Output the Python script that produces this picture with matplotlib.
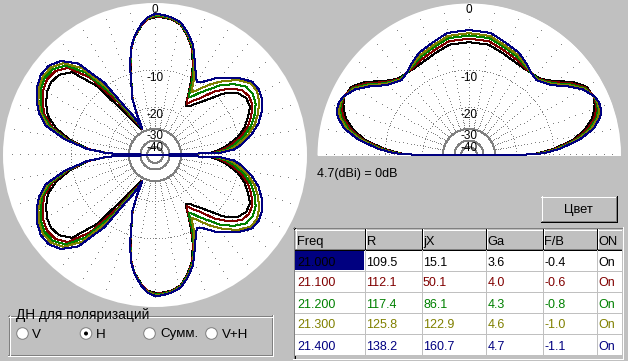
import numpy as np
import matplotlib
matplotlib.use("Agg")
import matplotlib.pyplot as plt
from matplotlib.patches import Rectangle, Circle

plt.rcParams["font.family"] = ["Liberation Sans", "DejaVu Sans"]

W, H = 628, 361
BG = "#c0c0c0"
DARK = "#808080"

# ---------------- data ----------------
FREQ_LABELS = ["21.000", "21.100", "21.200", "21.300", "21.400"]
CURVE_COLORS = ["#000000", "#800000", "#008000", "#808000", "#000080"]
R_VALUES = ["109.5", "112.1", "117.4", "125.8", "138.2"]
JX_VALUES = ["15.1", "50.1", "86.1", "122.9", "160.7"]
GA_VALUES = ["3.6", "4.0", "4.3", "4.6", "4.7"]
FB_VALUES = ["-0.4", "-0.6", "-0.8", "-1.0", "-1.1"]
ON_VALUES = ["On", "On", "On", "On", "On"]
TABLE_HEADERS = ["Freq", "R", "jX", "Ga", "F/B", "ON"]
RING_LABELS = [0, -10, -20, -30, -40]
GAIN_TEXT = "4.7(dBi) = 0dB"
POL_TITLE = "ДН для поляризаций"
POL_OPTIONS = ["V", "H", "Сумм.", "V+H"]
POL_SELECTED = "H"
BUTTON_TEXT = "Цвет"

# Horizontal-plane pattern (azimuth, degrees clockwise from top), dB rel. 0dB
AZ_ANGLE_DEG = [-90, -88, -85, -80, -75, -70, -65, -60, -55, -50,
                -45, -40, -35, -32, -30, -28, -25.5, -24, -22, -19,
                -16, -13, -10, -6, -3, 0, 3, 7, 11, 15,
                19, 23, 27, 30, 32, 35, 38, 43, 48, 53,
                58, 63, 68, 73, 78, 83, 86, 88, 90,
                92, 94, 97, 102, 107, 112, 117, 122, 127, 132,
                137, 142, 145, 148, 150, 153, 157, 161, 165, 169,
                173, 177, 180, 183, 186, 190, 193, 196, 199, 202,
                204, 205.5, 208, 210, 212, 215, 220, 225, 230, 235,
                240, 245, 250, 255, 260, 265, 268, 270]

AZ_DB_21000 = [-99, -20.3, -14.2, -9.69, -6.79, -4.89, -4.02, -3.33, -3.06, -3.33,
               -4.45, -8.97, -18.9, -23.8, -26.0, -27.6, -28.2, -20.9, -15.95, -12.9,
               -9.11, -5.97, -4.16, -2.66, -1.89, -1.67, -1.67, -1.83, -2.27, -3.46,
               -5.04, -7.64, -11.46, -14.7, -16.5, -15.95, -14.6, -12.0, -8.58, -6.59,
               -5.89, -6.04, -7.07, -8.27, -10.03, -12.81, -15.04, -17.29, -99,
               -17.29, -15.04, -12.81, -10.03, -8.27, -7.07, -6.04, -5.89, -6.59, -8.58,
               -12.0, -14.6, -15.95, -16.5, -14.7, -11.46, -7.64, -5.04, -3.46, -2.27,
               -1.83, -1.67, -1.67, -1.89, -2.66, -4.16, -5.97, -9.11, -12.9, -15.95,
               -20.9, -28.2, -27.6, -26.0, -23.8, -18.9, -8.97, -4.45, -3.33, -3.06,
               -3.33, -4.02, -4.89, -6.79, -9.69, -14.2, -20.3, -99]

AZ_DB_21100 = [-99, -20.2, -14.0, -9.24, -6.10, -4.36, -3.45, -2.76, -2.43, -2.61,
               -3.59, -6.95, -14.6, -20.8, -23.3, -25.7, -28.2, -20.85, -15.91, -12.85,
               -9.06, -5.93, -4.12, -2.61, -1.84, -1.57, -1.59, -1.77, -2.21, -3.37,
               -4.91, -7.43, -10.9, -14.45, -15.7, -14.1, -12.8, -9.57, -7.28, -5.78,
               -5.35, -5.6, -6.49, -7.65, -9.36, -11.96, -14.05, -16.52, -99,
               -16.52, -14.05, -11.96, -9.36, -7.65, -6.49, -5.6, -5.35, -5.78, -7.28,
               -9.57, -12.8, -14.1, -15.7, -14.45, -10.9, -7.43, -4.91, -3.37, -2.21,
               -1.77, -1.59, -1.57, -1.84, -2.61, -4.12, -5.93, -9.06, -12.85, -15.91,
               -20.85, -28.2, -25.7, -23.3, -20.8, -14.6, -6.95, -3.59, -2.61, -2.43,
               -2.76, -3.45, -4.36, -6.10, -9.24, -14.0, -20.2, -99]

AZ_DB_21200 = [-99, -20.1, -13.9, -8.99, -5.72, -4.05, -3.14, -2.44, -2.08, -2.23,
               -3.11, -5.89, -12.5, -19.2, -21.8, -24.6, -28.2, -20.8, -15.88, -12.8,
               -9.02, -5.89, -4.09, -2.56, -1.78, -1.48, -1.51, -1.71, -2.15, -3.28,
               -4.77, -7.2, -10.5, -13.9, -13.5, -12.0, -10.6, -7.96, -6.13, -4.92,
               -4.70, -5.05, -5.91, -7.03, -8.69, -11.11, -13.06, -15.74, -99,
               -15.74, -13.06, -11.11, -8.69, -7.03, -5.91, -5.05, -4.70, -4.92, -6.13,
               -7.96, -10.6, -12.0, -13.5, -13.9, -10.5, -7.2, -4.77, -3.28, -2.15,
               -1.71, -1.51, -1.48, -1.78, -2.56, -4.09, -5.89, -9.02, -12.8, -15.88,
               -20.8, -28.2, -24.6, -21.8, -19.2, -12.5, -5.89, -3.11, -2.23, -2.08,
               -2.44, -3.14, -4.05, -5.72, -8.99, -13.9, -20.1, -99]

AZ_DB_21300 = [-99, -20.0, -13.8, -8.76, -5.38, -3.78, -2.84, -2.16, -1.77, -1.89,
               -2.69, -4.98, -10.8, -17.9, -20.6, -23.7, -28.2, -20.75, -15.84, -12.75,
               -8.97, -5.85, -4.05, -2.51, -1.72, -1.38, -1.42, -1.64, -2.08, -3.19,
               -4.64, -7.0, -9.69, -12.5, -12.0, -10.5, -9.01, -6.89, -5.23, -4.09,
               -3.97, -4.45, -5.33, -6.40, -8.01, -10.26, -12.06, -14.97, -99,
               -14.97, -12.06, -10.26, -8.01, -6.40, -5.33, -4.45, -3.97, -4.09, -5.23,
               -6.89, -9.01, -10.5, -12.0, -12.5, -9.69, -7.0, -4.64, -3.19, -2.08,
               -1.64, -1.42, -1.38, -1.72, -2.51, -4.05, -5.85, -8.97, -12.75, -15.84,
               -20.75, -28.2, -23.7, -20.6, -17.9, -10.8, -4.98, -2.69, -1.89, -1.77,
               -2.16, -2.84, -3.78, -5.38, -8.76, -13.8, -20.0, -99]

AZ_DB_21400 = [-99, -20.0, -13.7, -8.54, -5.04, -3.52, -2.57, -1.88, -1.46, -1.54,
               -2.27, -4.12, -9.30, -16.7, -19.4, -22.8, -28.2, -20.7, -15.8, -12.7,
               -8.92, -5.81, -4.02, -2.46, -1.67, -1.28, -1.34, -1.58, -2.02, -3.10,
               -4.50, -6.79, -8.92, -10.1, -9.79, -8.78, -7.61, -6.3, -4.8, -3.77,
               -3.63, -3.95, -4.75, -5.78, -7.34, -9.41, -11.07, -14.19, -99,
               -14.19, -11.07, -9.41, -7.34, -5.78, -4.75, -3.95, -3.63, -3.77, -4.8,
               -6.3, -7.61, -8.78, -9.79, -10.1, -8.92, -6.79, -4.50, -3.10, -2.02,
               -1.58, -1.34, -1.28, -1.67, -2.46, -4.02, -5.81, -8.92, -12.7, -15.8,
               -20.7, -28.2, -22.8, -19.4, -16.7, -9.30, -4.12, -2.27, -1.54, -1.46,
               -1.88, -2.57, -3.52, -5.04, -8.54, -13.7, -20.0, -99]

# Vertical-plane pattern (elevation, degrees from right horizon), dB rel. 0dB
EL_ANGLE_DEG = [0, 0.5, 2, 4, 8, 12, 16, 19, 22, 25, 30, 35, 40, 44, 48, 53, 58, 64, 72, 80,
                90, 100, 108, 116, 122, 127, 132, 136, 140, 145, 150, 155, 158, 161, 164,
                168, 172, 176, 178, 179.5, 180]

EL_DB_21000 = [-99, -14.98, -12.71, -10.09, -6.46, -4.38, -3.03, -2.40, -1.95, -1.71,
               -1.87, -3.02, -4.75, -5.86, -6.49, -6.65, -6.69, -6.49, -5.89, -5.19,
               -5.07, -5.19, -5.89, -6.49, -6.69, -6.65, -6.49, -5.86, -4.75, -3.02,
               -1.87, -1.71, -1.95, -2.40, -3.03, -4.38, -6.46, -10.09, -12.71, -14.98, -99]
EL_DB_21100 = [-99, -14.74, -12.27, -9.65, -6.08, -3.97, -2.67, -2.11, -1.78, -1.67,
               -2.04, -3.30, -5.03, -6.02, -6.64, -6.64, -6.46, -6.02, -5.41, -4.67,
               -4.55, -4.67, -5.41, -6.02, -6.46, -6.64, -6.64, -6.02, -5.03, -3.30,
               -2.04, -1.67, -1.78, -2.11, -2.67, -3.97, -6.08, -9.65, -12.27, -14.74, -99]
EL_DB_21200 = [-99, -14.53, -11.88, -9.28, -5.75, -3.60, -2.36, -1.85, -1.63, -1.63,
               -2.19, -3.56, -5.29, -6.16, -6.75, -6.62, -6.20, -5.59, -4.98, -4.22,
               -4.09, -4.22, -4.98, -5.59, -6.20, -6.62, -6.75, -6.16, -5.29, -3.56,
               -2.19, -1.63, -1.63, -1.85, -2.36, -3.60, -5.75, -9.28, -11.88, -14.53, -99]
EL_DB_21300 = [-99, -14.40, -11.61, -9.01, -5.52, -3.34, -2.13, -1.67, -1.52, -1.61,
               -2.32, -3.75, -5.47, -6.28, -6.85, -6.60, -6.02, -5.30, -4.69, -3.89,
               -3.77, -3.89, -4.69, -5.30, -6.02, -6.60, -6.85, -6.28, -5.47, -3.75,
               -2.32, -1.61, -1.52, -1.67, -2.13, -3.34, -5.52, -9.01, -11.61, -14.40, -99]
EL_DB_21400 = [-99, -14.19, -11.24, -8.63, -5.19, -2.99, -1.83, -1.42, -1.37, -1.57,
               -2.48, -4.02, -5.73, -6.42, -6.99, -6.59, -5.80, -4.91, -4.28, -3.46,
               -3.33, -3.46, -4.28, -4.91, -5.80, -6.59, -6.99, -6.42, -5.73, -4.02,
               -2.48, -1.57, -1.37, -1.42, -1.83, -2.99, -5.19, -8.63, -11.24, -14.19, -99]

AZ_SERIES = [AZ_DB_21000, AZ_DB_21100, AZ_DB_21200, AZ_DB_21300, AZ_DB_21400]
EL_SERIES = [EL_DB_21000, EL_DB_21100, EL_DB_21200, EL_DB_21300, EL_DB_21400]

R_PX = 152.0   # radius of the 0 dB circle in pixels
DB_MIN = -200.0


# radial scale of the program: every 10 dB shrinks the radius by 1.8x
def db_fwd(db):
    return np.power(1.8, np.asarray(db, dtype=float) / 10.0)


def db_inv(r):
    return 10.0 * np.log(np.maximum(np.asarray(r, dtype=float), 1e-30)) / np.log(1.8)


fig = plt.figure(figsize=(W / 100, H / 100), dpi=100, facecolor=BG)


def px_rect(x0, y_top, w, h):
    return [x0 / W, (H - y_top - h) / H, w / W, h / H]


def setup_polar(rect, half):
    ax = fig.add_axes(rect, projection="polar")
    if half:
        ax.set_theta_zero_location("E")
        ax.set_theta_direction(1)
        ax.set_facecolor("none")
    else:
        ax.set_theta_zero_location("N")
        ax.set_theta_direction(-1)
        ax.set_facecolor("white")
    ax.set_rscale("function", functions=(db_fwd, db_inv))
    ax.set_rlim(DB_MIN, 0)
    ax.set_xticks([])
    ax.set_yticks([])
    ax.grid(False)
    for s in ax.spines.values():
        s.set_visible(False)
    span = np.pi if half else 2 * np.pi
    if half:
        tt = np.linspace(0, np.pi, 721)
        ax.fill_between(tt, DB_MIN, 0, color="white", lw=0, zorder=0)
    # dotted rings -10 / -20 (one-pixel dots about 3 px apart)
    for lev in (-10, -20):
        rpx = R_PX * float(db_fwd(lev))
        step = 3.0 / rpx
        tt = np.arange(0, span + 1e-9, step)
        ax.plot(tt, np.full_like(tt, lev), ls="none", marker=",", color=DARK, zorder=1)
    # solid rings -30 / -40 / -50
    tt = np.linspace(0, span, 721)
    for lev in (-30, -40, -50):
        ax.plot(tt, np.full_like(tt, lev), color=DARK, lw=0.72,
                antialiased=False, zorder=1)
    # spokes every 10 degrees, one dot per dB
    spoke_ang = np.arange(0, 181 if half else 360, 10)
    lev = np.arange(-29, 0, 1)
    for a in spoke_ang:
        ax.plot(np.full(lev.shape, np.deg2rad(a)), lev, ls="none", marker=",",
                color=DARK, zorder=1)
    top = np.pi / 2 if half else 0.0
    for lab in RING_LABELS:
        ax.annotate(str(lab), xy=(top, lab), xytext=(0, -10),
                    textcoords="offset pixels", ha="center", va="baseline",
                    fontsize=8.5, color="black", annotation_clip=False, zorder=6)
    return ax


ax_az = setup_polar(px_rect(3, 3, 304, 304), half=False)
ax_el = setup_polar(px_rect(317, 3, 304, 304), half=True)

for db, col in zip(AZ_SERIES, CURVE_COLORS):
    ax_az.plot(np.deg2rad(AZ_ANGLE_DEG), db, color=col, lw=0.72,
               antialiased=False, zorder=3)
for db, col in zip(EL_SERIES, CURVE_COLORS):
    ax_el.plot(np.deg2rad(EL_ANGLE_DEG), db, color=col, lw=0.72,
               antialiased=False, zorder=3)
ax_az.set_rlim(DB_MIN, 0)
ax_el.set_rlim(DB_MIN, 0)

# ---------------- overlay (pixel coordinates) ----------------
ov = fig.add_axes([0, 0, 1, 1])
ov.set_xlim(0, W)
ov.set_ylim(H, 0)
ov.axis("off")


def hline(ax, x0, x1, y, c):
    ax.plot([x0, x1 + 1], [y + 0.5, y + 0.5], color=c, lw=0.72,
            antialiased=False, solid_capstyle="butt")


def vline(ax, x, y0, y1, c):
    ax.plot([x + 0.5, x + 0.5], [y0, y1 + 1], color=c, lw=0.72,
            antialiased=False, solid_capstyle="butt")


def fill(ax, x0, y0, x1, y1, c):
    ax.add_patch(Rectangle((x0, y0), x1 - x0 + 1, y1 - y0 + 1, fc=c,
                           ec="none", antialiased=False))


ov.text(317, 176.5, GAIN_TEXT, fontsize=9, ha="left", va="baseline")

# button
fill(ov, 541, 196, 616, 221, BG)
hline(ov, 541, 615, 196, "white")
vline(ov, 541, 196, 220, "white")
hline(ov, 541, 616, 221, "black")
vline(ov, 616, 196, 221, "black")
hline(ov, 542, 615, 220, DARK)
vline(ov, 615, 197, 220, DARK)
ov.text(578.5, 212.5, BUTTON_TEXT, fontsize=9.3, ha="center", va="baseline")

# table frame (sunken)
hline(ov, 293, 621, 227, DARK)
vline(ov, 293, 227, 358, DARK)
hline(ov, 293, 622, 358, "white")
vline(ov, 622, 227, 358, "white")
hline(ov, 294, 620, 228, "black")
vline(ov, 294, 228, 357, "black")

tb = fig.add_axes(px_rect(295, 229, 327, 129))
tb.set_xlim(295, 622)
tb.set_ylim(358, 229)
tb.axis("off")

COL_EDGES = [295, 364, 421, 485, 542, 596, 640]
TEXT_X = [297, 366.5, 423, 487.5, 544, 598]
ROW_H = 21
HEAD_BOTTOM = 249

fill(tb, 295, 229, 621, 248, BG)
fill(tb, 295, 250, 621, 250 + ROW_H * 5 - 1, "white")
for i in range(6):
    x0 = COL_EDGES[i] + (0 if i == 0 else 1)
    x1 = COL_EDGES[i + 1] - 1
    hline(tb, x0, x1, 229, "white")
    vline(tb, x0, 229, 248, "white")
    hline(tb, x0, x1, 248, DARK)
    if i > 0:
        vline(tb, COL_EDGES[i], 229, 249, "black")
hline(tb, 295, 621, HEAD_BOTTOM, "black")
for j in range(1, 6):
    vline(tb, COL_EDGES[j], 250, 250 + ROW_H * 5 - 1, BG)
for r in range(5):
    hline(tb, 295, 621, 250 + ROW_H * (r + 1) - 1, BG)
fill(tb, 295, 250, 363, 269, "#000080")

for t, x in zip(TABLE_HEADERS, TEXT_X):
    tb.text(x, 245, t, fontsize=9.3, ha="left", va="baseline", clip_on=True)

rows = list(zip(FREQ_LABELS, R_VALUES, JX_VALUES, GA_VALUES, FB_VALUES, ON_VALUES))
for r, (vals, col) in enumerate(zip(rows, CURVE_COLORS)):
    yb = 265.5 + ROW_H * r
    for v, x in zip(vals, TEXT_X):
        tb.text(x, yb, v, fontsize=9, color=col, ha="left", va="baseline", clip_on=True)

# polarisation group box (etched)
hline(ov, 8, 271, 315, DARK)
vline(ov, 8, 315, 354, DARK)
hline(ov, 8, 271, 354, DARK)
vline(ov, 271, 315, 354, DARK)
hline(ov, 9, 272, 316, "white")
vline(ov, 9, 316, 355, "white")
hline(ov, 8, 272, 355, "white")
vline(ov, 272, 315, 355, "white")
fill(ov, 14, 309, 152, 321, BG)
ov.text(15.5, 319, POL_TITLE, fontsize=9.8, ha="left", va="baseline")

RADIO_X = [22.5, 86, 149.5, 211.5]
LABEL_X = [32.3, 96.3, 160, 222.3]
for opt, cx, lx in zip(POL_OPTIONS, RADIO_X, LABEL_X):
    ov.add_patch(Circle((cx, 333.5), 5.8, fc="white", ec=DARK, lw=0.72))
    if opt == POL_SELECTED:
        ov.add_patch(Circle((cx, 333.5), 2.0, fc="black", ec="none"))
    ov.text(lx, 337.5, opt, fontsize=9.6, ha="left", va="baseline")

fig.savefig("out.png", dpi=100, facecolor=BG)
